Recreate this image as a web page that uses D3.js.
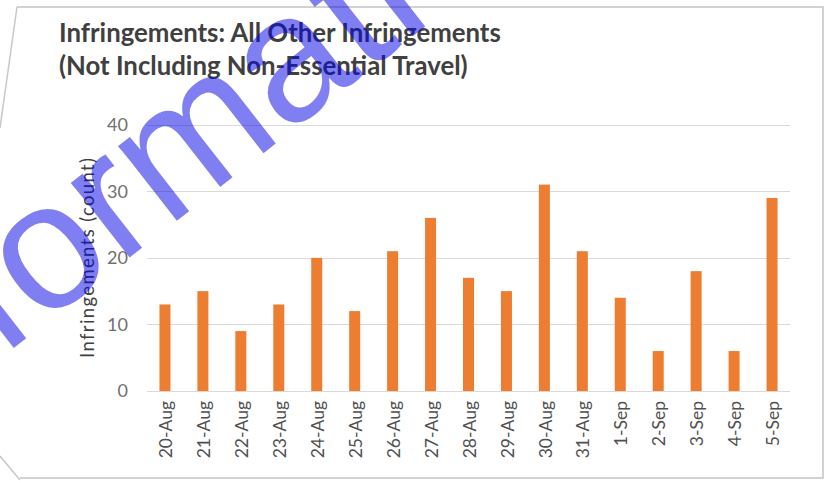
<!DOCTYPE html>
<html>
<head>
<meta charset="utf-8">
<script src="https://cdn.jsdelivr.net/npm/d3@7"></script>
<style>
  html, body { margin: 0; padding: 0; background: #ffffff; }
  svg { display: block; }
</style>
</head>
<body>
<svg id="chart" width="833" height="483"></svg>
<script>
// ---- data ----
const categories = ["20-Aug","21-Aug","22-Aug","23-Aug","24-Aug","25-Aug","26-Aug","27-Aug","28-Aug","29-Aug","30-Aug","31-Aug","1-Sep","2-Sep","3-Sep","4-Sep","5-Sep"];
const values = [13,15,9,13,20,12,21,26,17,15,31,21,14,6,18,6,29];
const yTicks = [0,10,20,30,40];
const titleLines = ["Infringements: All Other Infringements", "(Not Including Non-Essential Travel)"];
const yAxisTitle = "Infringements (count)";
const watermark = "Information";

const W = 833, H = 483;
const svg = d3.select("#chart");
const font = "Lato, 'Open Sans', 'DejaVu Sans', sans-serif";

// frame
svg.append("path")
  .attr("d", "M17,7 L823,7 L823,478 L20,478")
  .attr("fill", "none").attr("stroke", "#c4c4c4").attr("stroke-width", 1.5);
svg.append("path")
  .attr("d", "M17,7 L0,128")
  .attr("fill", "none").attr("stroke", "#c8c8c8").attr("stroke-width", 1.5);
svg.append("path")
  .attr("d", "M0,456 L20,480")
  .attr("fill", "none").attr("stroke", "#c8c8c8").attr("stroke-width", 1.5);

// scales
const x = d3.scaleBand().domain(categories).range([146, 791]).paddingInner(0.71).paddingOuter(0.355);
const y = d3.scaleLinear().domain([0, 40]).range([391, 124.7]);

// gridlines
svg.append("g").selectAll("line").data(yTicks).join("line")
  .attr("x1", 147).attr("x2", 790)
  .attr("y1", d => Math.round(y(d)) + 0.5).attr("y2", d => Math.round(y(d)) + 0.5)
  .attr("stroke", "#d9d9d9").attr("stroke-width", 1.2);

// y tick labels
svg.append("g").selectAll("text").data(yTicks).join("text")
  .attr("x", 128).attr("y", d => y(d))
  .attr("dy", "0.35em")
  .attr("text-anchor", "end")
  .attr("font-family", font).attr("font-size", 18)
  .attr("fill", "#707070")
  .text(d => d);

// bars
svg.append("g").selectAll("rect").data(values).join("rect")
  .attr("x", (d, i) => x(categories[i]))
  .attr("width", x.bandwidth())
  .attr("y", d => y(d))
  .attr("height", d => y(0) - y(d))
  .attr("fill", "#ed7d31");

// x axis labels (rotated)
svg.append("g").selectAll("text").data(categories).join("text")
  .attr("transform", d => `translate(${x(d) + x.bandwidth() / 2 + 1},401) rotate(-90)`)
  .attr("dy", "0.35em")
  .attr("text-anchor", "end")
  .attr("font-family", font).attr("font-size", 17.5)
  .attr("fill", "#505050")
  .text(d => d);

// y axis title
svg.append("text")
  .attr("transform", "translate(94,258) rotate(-90)")
  .attr("text-anchor", "middle")
  .attr("font-family", font).attr("font-size", 18.5)
  .attr("textLength", 200).attr("lengthAdjust", "spacing")
  .attr("fill", "#404040")
  .text(yAxisTitle);

// title
const title = svg.append("g");
const tl = title.selectAll("text").data(titleLines).join("text")
  .attr("x", 59).attr("y", (d, i) => 42 + i * 33)
  .attr("font-family", font).attr("font-weight", "bold").attr("font-size", 20)
  .attr("fill", "#404040")
  .text(d => d);
// fit first line to its width in the picture
const w0 = tl.node().getComputedTextLength();
const fs = 20 * 442 / w0;
tl.attr("font-size", fs);

// watermark
svg.append("text")
  .attr("transform", "translate(15,2) rotate(-5,300,50) translate(-165,409) rotate(-33)")
  .attr("font-family", "'Liberation Sans', Arial, sans-serif")
  .attr("font-size", 180)
  .attr("fill", "#0000e6").attr("fill-opacity", 0.5)
  .text(watermark);
</script>
</body>
</html>
